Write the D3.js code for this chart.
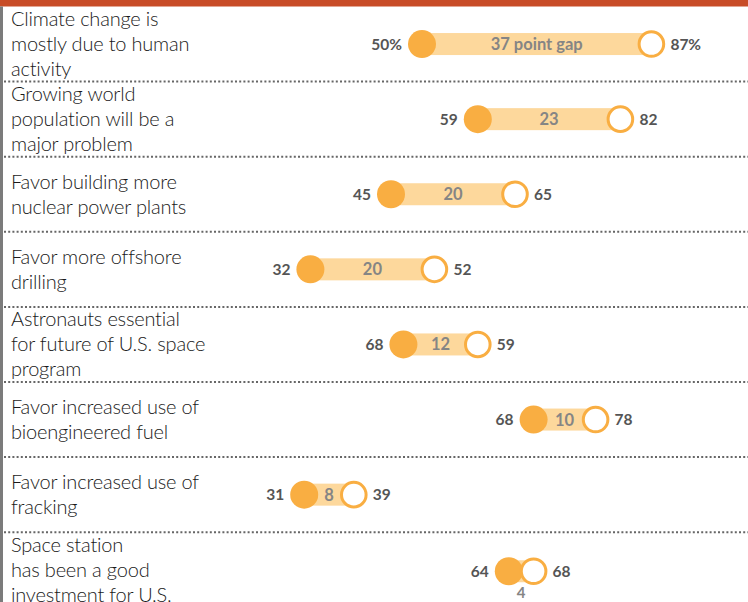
<!DOCTYPE html>
<html>
<head>
<meta charset="utf-8">
<script src="https://cdn.jsdelivr.net/npm/d3@7/dist/d3.min.js"></script>
<style>
  html, body { margin: 0; padding: 0; background: #fff; }
  svg { display: block; }
</style>
</head>
<body>
<svg id="chart" width="748" height="602"></svg>
<script>
// ---- data ----
const categories = [
  "Climate change is\nmostly due to human\nactivity",
  "Growing world\npopulation will be a\nmajor problem",
  "Favor building more\nnuclear power plants",
  "Favor more offshore\ndrilling",
  "Astronauts essential\nfor future of U.S. space\nprogram",
  "Favor increased use of\nbioengineered fuel",
  "Favor increased use of\nfracking",
  "Space station\nhas been a good\ninvestment for U.S."
];
// filled dot (left) and open dot (right) positions
const filledValues = [50, 59, 45, 32, 47, 68, 31, 64];
const openValues   = [87, 82, 65, 52, 59, 78, 39, 68];
// printed labels (as shown in the original)
const filledLabels = ["50%", "59", "45", "32", "68", "68", "31", "64"];
const openLabels   = ["87%", "82", "65", "52", "59", "78", "39", "68"];
const gapLabels    = ["37 point gap", "23", "20", "20", "12", "10", "8", "4"];

// ---- layout ----
const W = 748, H = 602;
const svg = d3.select("#chart");

const x = d3.scaleLinear().domain([0, 100]).range([112, 732]);
const rowStep = 75.1;
const y = d3.scaleBand().domain(categories)
  .range([6.5, 6.5 + rowStep * categories.length]).padding(0);

const rows = categories.map((c, i) => ({
  cat: c, a: filledValues[i], b: openValues[i],
  la: filledLabels[i], lb: openLabels[i], gap: gapLabels[i],
  i
}));

// top bar and left edge
svg.append("rect").attr("x", 0).attr("y", 0).attr("width", W).attr("height", 6.5).attr("fill", "#c84c27");
svg.append("rect").attr("x", 0).attr("y", 6.5).attr("width", 3).attr("height", H).attr("fill", "#7b7b7b");

// separators
svg.selectAll("line.sep").data(categories.slice(1)).join("line")
  .attr("class", "sep")
  .attr("x1", 4).attr("x2", W)
  .attr("y1", d => y(d)).attr("y2", d => y(d))
  .attr("stroke", "#666").attr("stroke-width", 2)
  .attr("stroke-dasharray", "2,2.2");

// category labels
const lab = svg.selectAll("text.cat").data(rows).join("text")
  .attr("class", "cat")
  .attr("x", 11)
  .attr("font-family", "Lato, 'Open Sans', sans-serif")
  .attr("font-weight", 300)
  .attr("font-size", 20)
  .attr("letter-spacing", -0.2)
  .attr("fill", "#1a1a1a");
lab.each(function(d) {
  const lines = d.cat.split("\n");
  const cy = y(d.cat) + y.bandwidth() / 2;
  const lh = 25;
  d3.select(this).selectAll("tspan").data(lines).join("tspan")
    .attr("x", 11)
    .attr("y", (l, k) => cy + (k - (lines.length - 1) / 2) * lh + 7)
    .text(l => l);
});

const g = svg.selectAll("g.row").data(rows).join("g").attr("class", "row")
  .attr("transform", d => `translate(0,${y(d.cat) + y.bandwidth() / 2 + (d.i === rows.length - 1 ? 1.5 : 0)})`);

// bar
g.append("rect")
  .attr("x", d => x(d.a)).attr("y", -11)
  .attr("width", d => x(d.b) - x(d.a)).attr("height", 22)
  .attr("fill", "#fdd89c");

// gap label
g.append("text")
  .attr("x", d => (x(d.a) + x(d.b)) / 2)
  .attr("y", d => (x(d.b) - x(d.a) < 40) ? 26.5 : 6)
  .attr("text-anchor", "middle")
  .attr("font-family", "Lato, 'Open Sans', sans-serif")
  .attr("font-weight", 700)
  .attr("font-size", d => (x(d.b) - x(d.a) < 40) ? 15 : 16.5)
  .attr("fill", "#858585")
  .text(d => d.gap);

// filled dot
g.append("circle")
  .attr("cx", d => x(d.a)).attr("cy", 0).attr("r", 14)
  .attr("fill", "#f9ae42");

// open dot
g.append("circle")
  .attr("cx", d => x(d.b)).attr("cy", 0).attr("r", 12.3)
  .attr("fill", "#fff").attr("stroke", "#f9ae42").attr("stroke-width", 3);

// value labels
g.append("text")
  .attr("x", d => x(d.a) - 20).attr("y", 5.5)
  .attr("text-anchor", "end")
  .attr("font-family", "Lato, 'Open Sans', sans-serif")
  .attr("font-weight", 700).attr("font-size", 15.5)
  .attr("fill", "#555")
  .text(d => d.la);
g.append("text")
  .attr("x", d => x(d.b) + 19).attr("y", 5.5)
  .attr("text-anchor", "start")
  .attr("font-family", "Lato, 'Open Sans', sans-serif")
  .attr("font-weight", 700).attr("font-size", 15.5)
  .attr("fill", "#555")
  .text(d => d.lb);
</script>
</body>
</html>
